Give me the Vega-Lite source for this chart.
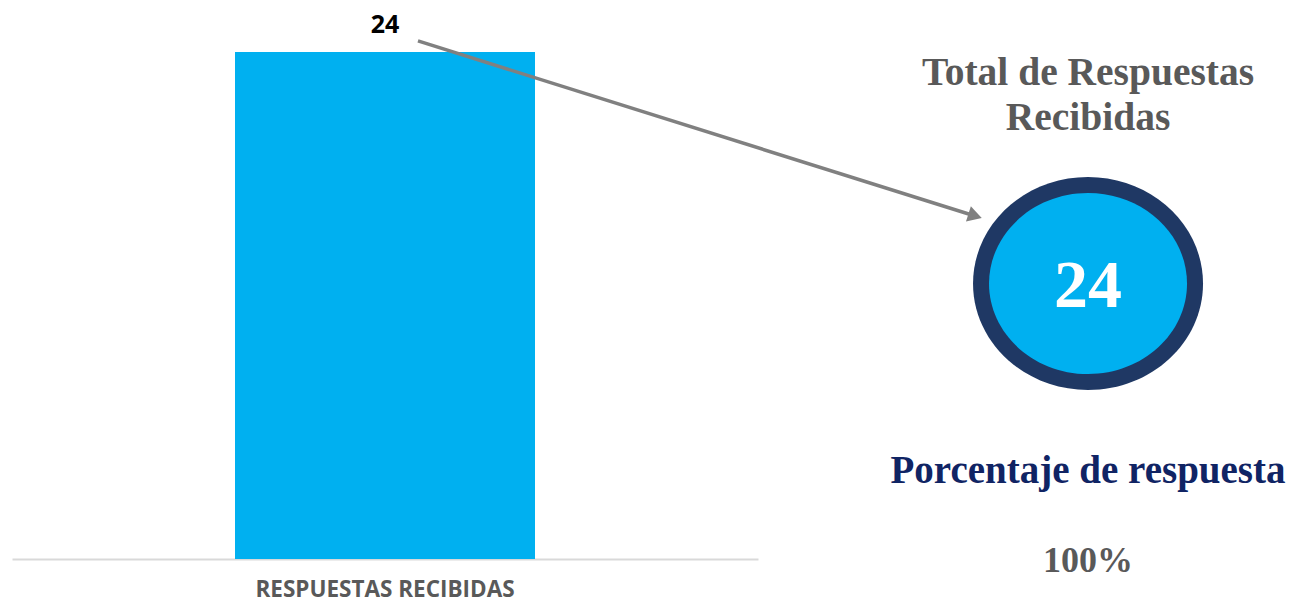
{
  "$schema": "https://vega.github.io/schema/vega-lite/v6.json",
  "autosize": {"type": "none"},
  "width": 746,
  "height": 528,
  "padding": {"left": 12, "top": 31, "right": 540, "bottom": 44},
  "background": "#ffffff",
  "config": {"view": {"stroke": null}},
  "data": {"values": [{"category": "RESPUESTAS RECIBIDAS", "value": 24, "porcentaje": 1}]},
  "resolve": {"scale": {"x": "independent"}, "axis": {"x": "independent"}},
  "layer": [
    {
      "layer": [
        {
          "mark": {"type": "bar", "color": "#00B0F0", "width": 300},
          "encoding": {
            "x": {"field": "category", "type": "nominal", "title": null,
              "axis": {"domainColor": "#D9D9D9", "domainWidth": 2, "ticks": false, "labelAngle": 0, "labelLimit": 0,
                "labelFont": "Open Sans", "labelFontWeight": "bold", "labelFontSize": 22.5, "labelColor": "#595959",
                "labelPadding": 19}},
            "y": {"field": "value", "type": "quantitative", "scale": {"domain": [0, 25], "nice": false}, "axis": null}
          }
        },
        {
          "mark": {"type": "text", "font": "Open Sans", "fontWeight": "bold", "fontSize": 25, "color": "#000000", "baseline": "alphabetic", "dy": -19},
          "encoding": {
            "x": {"field": "category", "type": "nominal"},
            "y": {"field": "value", "type": "quantitative", "scale": {"domain": [0, 25], "nice": false}},
            "text": {"field": "value"}
          }
        }
      ]
    },
    {
      "layer": [
        {
          "mark": {"type": "rule", "color": "#808080", "strokeWidth": 3.5},
          "encoding": {
            "x": {"datum": 54.42, "type": "quantitative", "scale": {"domain": [0, 100], "nice": false}, "axis": null},
            "x2": {"datum": 129.1},
            "y": {"datum": 24.53, "type": "quantitative", "scale": {"domain": [0, 25], "nice": false}},
            "y2": {"datum": 16.24}
          }
        },
        {
          "mark": {"type": "point", "shape": "triangle-up", "filled": true, "opacity": 1, "color": "#808080", "size": 260, "angle": 107.5},
          "encoding": {
            "x": {"datum": 129.1, "type": "quantitative", "scale": {"domain": [0, 100], "nice": false}, "axis": null},
            "y": {"datum": 16.24, "type": "quantitative", "scale": {"domain": [0, 25], "nice": false}}
          }
        },
        {
          "mark": {"type": "point", "shape": "M1,0C1,0.5114,0.5523,0.926,0,0.926C-0.5523,0.926,-1,0.5114,-1,0C-1,-0.5114,-0.5523,-0.926,0,-0.926C0.5523,-0.926,1,-0.5114,1,0Z", "filled": true, "opacity": 1, "color": "#1F3864", "size": 52900, "strokeWidth": 0},
          "encoding": {
            "x": {"datum": 144.24, "type": "quantitative", "scale": {"domain": [0, 100], "nice": false}, "axis": null},
            "y": {"datum": 13.04, "type": "quantitative", "scale": {"domain": [0, 25], "nice": false}}
          }
        },
        {
          "mark": {"type": "point", "shape": "M1,0C1,0.5048,0.5523,0.914,0,0.914C-0.5523,0.914,-1,0.5048,-1,0C-1,-0.5048,-0.5523,-0.914,0,-0.914C0.5523,-0.914,1,-0.5048,1,0Z", "filled": true, "opacity": 1, "color": "#00B0F0", "size": 39204, "strokeWidth": 0},
          "encoding": {
            "x": {"datum": 144.24, "type": "quantitative", "scale": {"domain": [0, 100], "nice": false}, "axis": null},
            "y": {"datum": 13.04, "type": "quantitative", "scale": {"domain": [0, 25], "nice": false}}
          }
        },
        {
          "mark": {"type": "text", "font": "Liberation Serif", "fontWeight": "bold", "fontSize": 68, "color": "#ffffff", "baseline": "alphabetic", "align": "center"},
          "encoding": {
            "x": {"datum": 144.24, "type": "quantitative", "scale": {"domain": [0, 100], "nice": false}, "axis": null},
            "y": {"datum": 11.95, "type": "quantitative", "scale": {"domain": [0, 25], "nice": false}},
            "text": {"field": "value"}
          }
        },
        {
          "mark": {"type": "text", "font": "Liberation Serif", "fontWeight": "bold", "fontSize": 39.5, "color": "#595959", "baseline": "alphabetic", "align": "center"},
          "encoding": {
            "x": {"datum": 144.24, "type": "quantitative", "scale": {"domain": [0, 100], "nice": false}, "axis": null},
            "y": {"datum": 22.44, "type": "quantitative", "scale": {"domain": [0, 25], "nice": false}},
            "text": {"value": "Total de Respuestas"}
          }
        },
        {
          "mark": {"type": "text", "font": "Liberation Serif", "fontWeight": "bold", "fontSize": 39.5, "color": "#595959", "baseline": "alphabetic", "align": "center"},
          "encoding": {
            "x": {"datum": 144.24, "type": "quantitative", "scale": {"domain": [0, 100], "nice": false}, "axis": null},
            "y": {"datum": 20.31, "type": "quantitative", "scale": {"domain": [0, 25], "nice": false}},
            "text": {"value": "Recibidas"}
          }
        },
        {
          "mark": {"type": "text", "font": "Liberation Serif", "fontWeight": "bold", "fontSize": 39, "color": "#102464", "baseline": "alphabetic", "align": "center"},
          "encoding": {
            "x": {"datum": 144.24, "type": "quantitative", "scale": {"domain": [0, 100], "nice": false}, "axis": null},
            "y": {"datum": 3.6, "type": "quantitative", "scale": {"domain": [0, 25], "nice": false}},
            "text": {"value": "Porcentaje de respuesta"}
          }
        },
        {
          "mark": {"type": "text", "font": "Liberation Serif", "fontWeight": "bold", "fontSize": 36, "color": "#595959", "baseline": "alphabetic", "align": "center"},
          "encoding": {
            "x": {"datum": 144.24, "type": "quantitative", "scale": {"domain": [0, 100], "nice": false}, "axis": null},
            "y": {"datum": -0.62, "type": "quantitative", "scale": {"domain": [0, 25], "nice": false}},
            "text": {"field": "porcentaje", "format": ".0%"}
          }
        }
      ]
    }
  ]
}
